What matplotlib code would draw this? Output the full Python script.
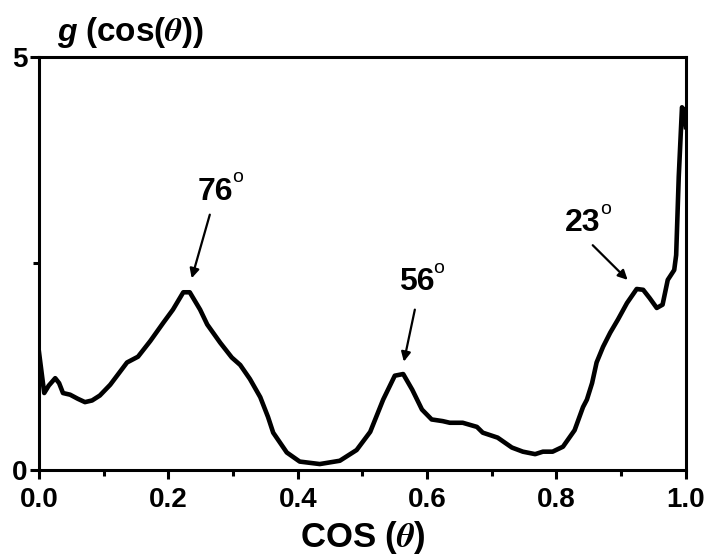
import numpy as np
import matplotlib
matplotlib.use("Agg")
import matplotlib.pyplot as plt
from matplotlib.ticker import MultipleLocator, FormatStrFormatter

plt.rcParams['font.family'] = ['Liberation Sans', 'DejaVu Sans']
plt.rcParams['font.weight'] = 'bold'
plt.rcParams['mathtext.fontset'] = 'stix'

# curve: cos(theta) vs g(cos(theta))
cos_theta = [0.000, 0.008, 0.015, 0.025, 0.031, 0.037, 0.048, 0.060, 0.071, 0.082,
             0.094, 0.110, 0.136, 0.153, 0.172, 0.192, 0.207, 0.223, 0.233, 0.249,
             0.260, 0.280, 0.298, 0.311, 0.326, 0.342, 0.354, 0.362, 0.383, 0.403,
             0.434, 0.465, 0.491, 0.512, 0.532, 0.550, 0.563, 0.577, 0.592, 0.607,
             0.624, 0.635, 0.655, 0.677, 0.686, 0.709, 0.731, 0.748, 0.767, 0.779,
             0.794, 0.810, 0.828, 0.841, 0.847, 0.855, 0.862, 0.872, 0.883, 0.895,
             0.909, 0.924, 0.934, 0.944, 0.955, 0.964, 0.972, 0.982, 0.985, 0.989,
             0.994, 0.997, 1.000]
g_vals = [1.42, 0.93, 1.02, 1.11, 1.05, 0.93, 0.91, 0.86, 0.82, 0.84,
          0.90, 1.03, 1.30, 1.37, 1.56, 1.78, 1.94, 2.15, 2.15, 1.94,
          1.76, 1.54, 1.36, 1.27, 1.10, 0.88, 0.64, 0.45, 0.21, 0.10,
          0.07, 0.11, 0.24, 0.46, 0.85, 1.14, 1.16, 0.97, 0.73, 0.61,
          0.59, 0.57, 0.57, 0.52, 0.45, 0.39, 0.27, 0.22, 0.19, 0.22,
          0.22, 0.28, 0.48, 0.76, 0.85, 1.05, 1.30, 1.49, 1.66, 1.82,
          2.02, 2.19, 2.18, 2.08, 1.96, 2.00, 2.30, 2.42, 2.60, 3.55,
          4.39, 4.36, 4.15]

# angle labels: text position, arrow tail, arrow head
angle_labels = ["76", "56", "23"]
label_pos = [(0.272, 3.37), (0.584, 2.27), (0.841, 2.99)]
arrow_tail = [(0.264, 3.09), (0.581, 1.94), (0.856, 2.72)]
arrow_head = [(0.236, 2.32), (0.564, 1.31), (0.910, 2.30)]

fig = plt.figure(figsize=(7.1, 5.58), dpi=100)
ax = fig.add_axes([0.055, 0.158, 0.911, 0.740])

ax.plot(cos_theta, g_vals, color='black', lw=3.3, solid_joinstyle='round')

ax.set_xlim(0, 1)
ax.set_ylim(0, 5)
ax.xaxis.set_major_locator(MultipleLocator(0.2))
ax.xaxis.set_minor_locator(MultipleLocator(0.1))
ax.yaxis.set_major_locator(MultipleLocator(5))
ax.yaxis.set_minor_locator(MultipleLocator(2.5))
ax.xaxis.set_major_formatter(FormatStrFormatter('%.1f'))
ax.yaxis.set_major_formatter(FormatStrFormatter('%d'))

for s in ax.spines.values():
    s.set_linewidth(2.2)
ax.tick_params(which='major', direction='out', length=6.5, width=2.2, labelsize=20)
ax.tick_params(axis='x', which='major', pad=6)
ax.tick_params(axis='y', which='major', pad=2)
ax.tick_params(which='minor', direction='out', length=4, width=2.2)

ax.set_xlabel(r'COS ($\theta$)', fontsize=25, fontweight='bold', labelpad=4)

fig.text(57 / 710, 1 - 41 / 558, 'g', fontsize=23, fontweight='bold', style='italic')
fig.text(85 / 710, 1 - 41 / 558, r'(cos($\theta$))', fontsize=24, fontweight='bold')

for lab, pos, tail, head in zip(angle_labels, label_pos, arrow_tail, arrow_head):
    ax.annotate('', xy=head, xytext=tail,
                arrowprops=dict(arrowstyle='-|>', color='black', lw=1.6,
                                mutation_scale=14, shrinkA=0, shrinkB=0))
    ax.text(pos[0], pos[1], lab, fontsize=23, fontweight='bold', ha='center', va='center')
    ax.annotate('o', xy=pos, xytext=(12, 10), textcoords='offset points',
                fontsize=14, fontweight='normal', ha='left', va='center')

fig.savefig('out.png', dpi=100)
